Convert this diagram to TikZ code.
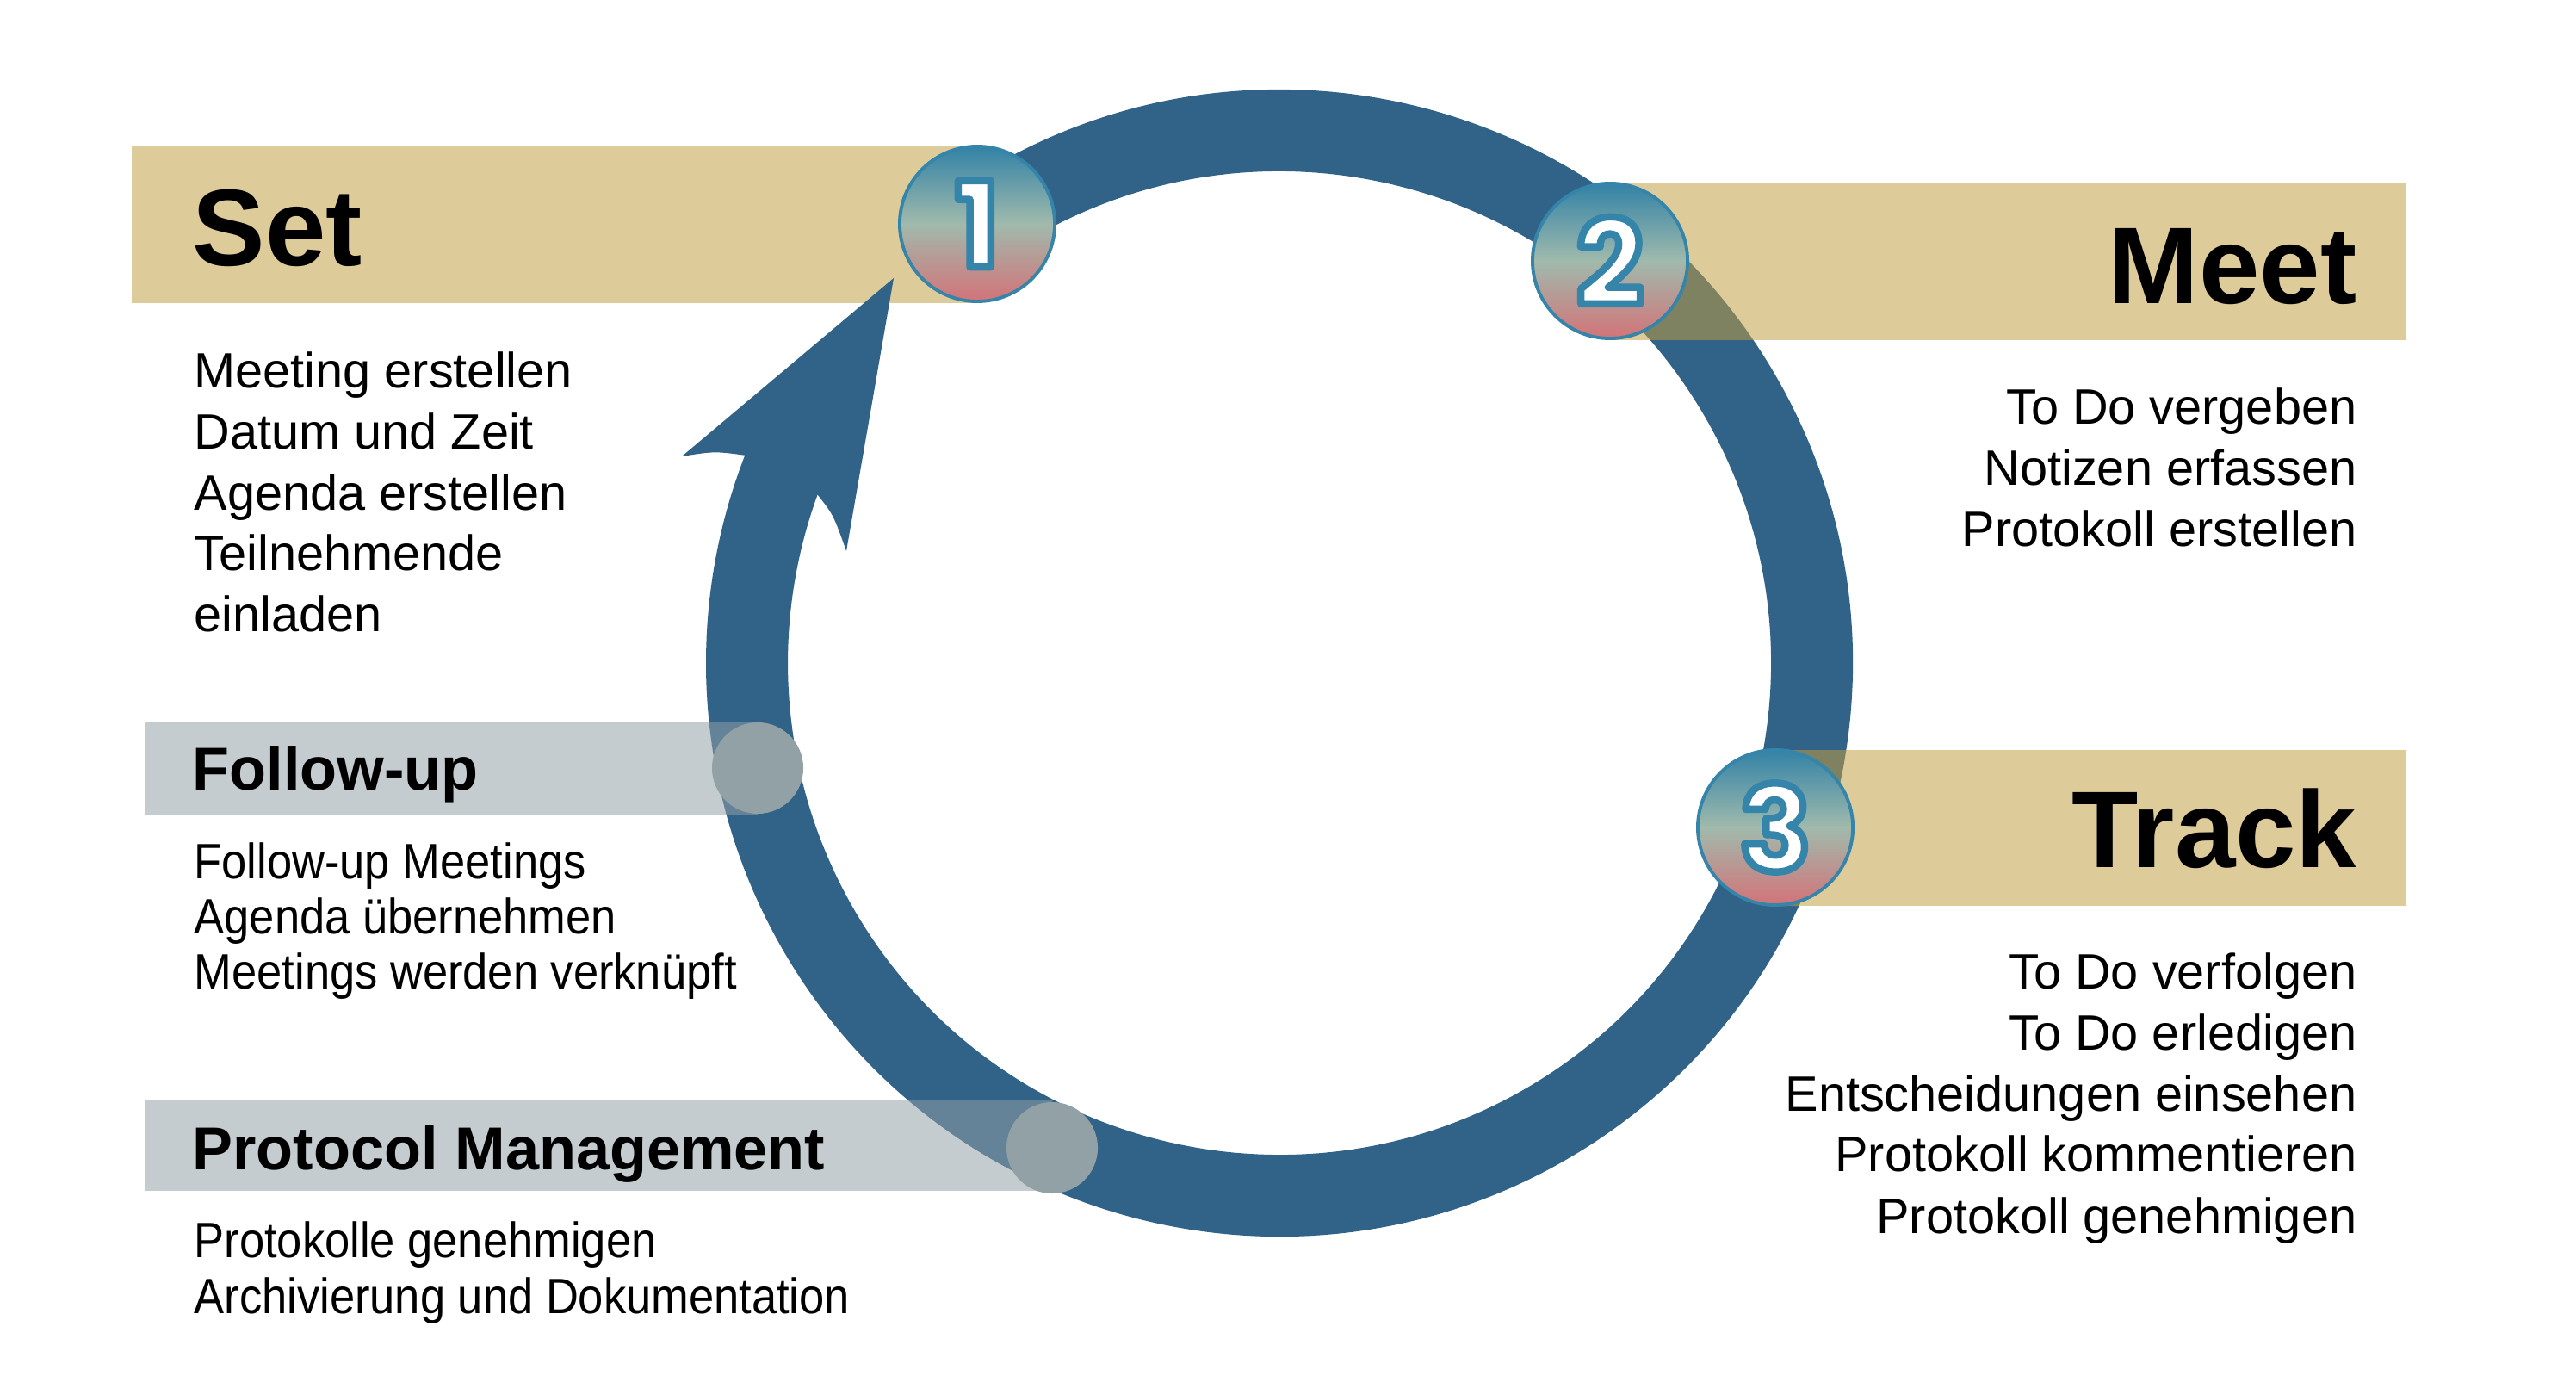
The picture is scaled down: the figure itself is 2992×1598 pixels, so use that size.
\documentclass[tikz,border=0pt]{standalone}
\usepackage{fontspec}
\setmainfont{Liberation Sans}
\newfontfamily\narrowfont{Liberation Sans}[FakeStretch=0.91]
\newfontfamily\numfont{Poppins}
% white digit with a blue rim (fill and stroke)
\newcommand\rimdigit[1]{\special{pdf:literal direct 2 Tr 2.4 w 1 j 0.208 0.518 0.667 RG}#1\special{pdf:literal direct 0 Tr}}

\definecolor{ringblue}{RGB}{49,99,137}
\definecolor{sandband}{RGB}{222,203,154}
\definecolor{greyband}{RGB}{196,204,207}
\definecolor{greydot}{RGB}{146,161,165}
\definecolor{sandring}{RGB}{126,130,97}
\definecolor{greyring}{RGB}{100,130,152}
\definecolor{numtop}{RGB}{50,130,166}
\definecolor{nummid}{RGB}{160,186,172}
\definecolor{numbot}{RGB}{211,115,120}
\definecolor{numline}{RGB}{53,132,170}

\tikzset{
  title/.style={font=\bfseries\fontsize{36}{40}\selectfont, inner sep=0pt},
  subtitle/.style={font=\bfseries\fontsize{20}{24}\selectfont, inner sep=0pt},
  item/.style={font=\fontsize{16.4}{19}\selectfont, inner sep=0pt},
  narrowitem/.style={font=\narrowfont\fontsize{16.4}{19}\selectfont, inner sep=0pt},
  ring/.style={line width=0.95cm},
  numdot/.style={circle, minimum size=1.8cm, inner sep=0pt, draw=numline, line width=1.1pt,
    top color=numtop, bottom color=numbot, middle color=nummid, text=white,
    font=\numfont\bfseries\fontsize{39}{39}\selectfont},
  greydot/.style={circle, minimum size=1.06cm, inner sep=0pt, fill=greydot}
}

\begin{document}
\begin{tikzpicture}[x=0.01cm, y=0.01cm]
  \useasboundingbox (0,0) rectangle (2992,-1598);
  \fill[white] (0,0) rectangle (2992,-1598);

  % Set band lies under the arrow
  \fill[sandband] (153,-170) rectangle (1135,-352);

  % the cycle
  \draw[ring, ringblue] (1486,-770) ++(122:618.5) arc[start angle=122, end angle=-201.5, radius=618.5];
  \fill[ringblue] (1038,-323) -- (792,-530) .. controls (830,-524) .. (867,-529)
     -- (950,-575) .. controls (968,-598) .. (983,-640) -- cycle;

  % the other bands
  \fill[sandband] (1870,-213) rectangle (2795,-395);
  \fill[sandband] (2062,-871) rectangle (2795,-1052);
  \fill[greyband] (168,-839) rectangle (880,-946);
  \fill[greyband] (168,-1278) rectangle (1222,-1383);

  % where ring and bands overlap
  \begin{scope}
    \clip (1870,-213) rectangle (2795,-395) (2062,-871) rectangle (2795,-1052);
    \draw[ring, sandring] (1486,-770) ++(122:618.5) arc[start angle=122, end angle=-201.5, radius=618.5];
  \end{scope}
  \begin{scope}
    \clip (168,-839) rectangle (880,-946) (168,-1278) rectangle (1222,-1383);
    \draw[ring, greyring] (1486,-770) ++(122:618.5) arc[start angle=122, end angle=-201.5, radius=618.5];
  \end{scope}

  % steps
  \node[numdot] (one) at (1135,-260) {\rimdigit{1}};
  \node[numdot] (two) at (1870,-303) {\rimdigit{2}};
  \node[numdot] (three) at (2062,-961) {\rimdigit{3}};
  \node[greydot] (follow) at (880,-892) {};
  \node[greydot] (protocol) at (1222,-1333) {};

  % Set
  \node[title, anchor=base west] (settitle) at (223,-309) {Set};
  \node[item, anchor=base west] (set1) at (225,-451) {Meeting erstellen};
  \node[item, anchor=base west] (set2) at (225,-522) {Datum und Zeit};
  \node[item, anchor=base west] (set3) at (225,-593) {Agenda erstellen};
  \node[item, anchor=base west] (set4) at (225,-663) {Teilnehmende};
  \node[item, anchor=base west] (set5) at (225,-734) {einladen};

  % Meet
  \node[title, anchor=base east] (meettitle) at (2738,-353) {Meet};
  \node[item, anchor=base east] (meet1) at (2738,-493) {To Do vergeben};
  \node[item, anchor=base east] (meet2) at (2738,-564) {Notizen erfassen};
  \node[item, anchor=base east] (meet3) at (2738,-635) {Protokoll erstellen};

  % Track
  \node[title, anchor=base east] (tracktitle) at (2738,-1007) {Track};
  \node[item, anchor=base east] (track1) at (2738,-1148) {To Do verfolgen};
  \node[item, anchor=base east] (track2) at (2738,-1219) {To Do erledigen};
  \node[item, anchor=base east] (track3) at (2738,-1290) {Entscheidungen einsehen};
  \node[item, anchor=base east] (track4) at (2738,-1360) {Protokoll kommentieren};
  \node[item, anchor=base east] (track5) at (2738,-1432) {Protokoll genehmigen};

  % Follow-up
  \node[subtitle, anchor=base west] (followtitle) at (223,-917) {Follow-up};
  \node[narrowitem, anchor=base west] (follow1) at (225,-1020) {Follow-up Meetings};
  \node[narrowitem, anchor=base west] (follow2) at (225,-1084) {Agenda übernehmen};
  \node[narrowitem, anchor=base west] (follow3) at (225,-1148) {Meetings werden verknüpft};

  % Protocol Management
  \node[subtitle, anchor=base west] (prottitle) at (223,-1358) {Protocol Management};
  \node[narrowitem, anchor=base west] (prot1) at (225,-1460) {Protokolle genehmigen};
  \node[narrowitem, anchor=base west] (prot2) at (225,-1525) {Archivierung und Dokumentation};
\end{tikzpicture}
\end{document}
